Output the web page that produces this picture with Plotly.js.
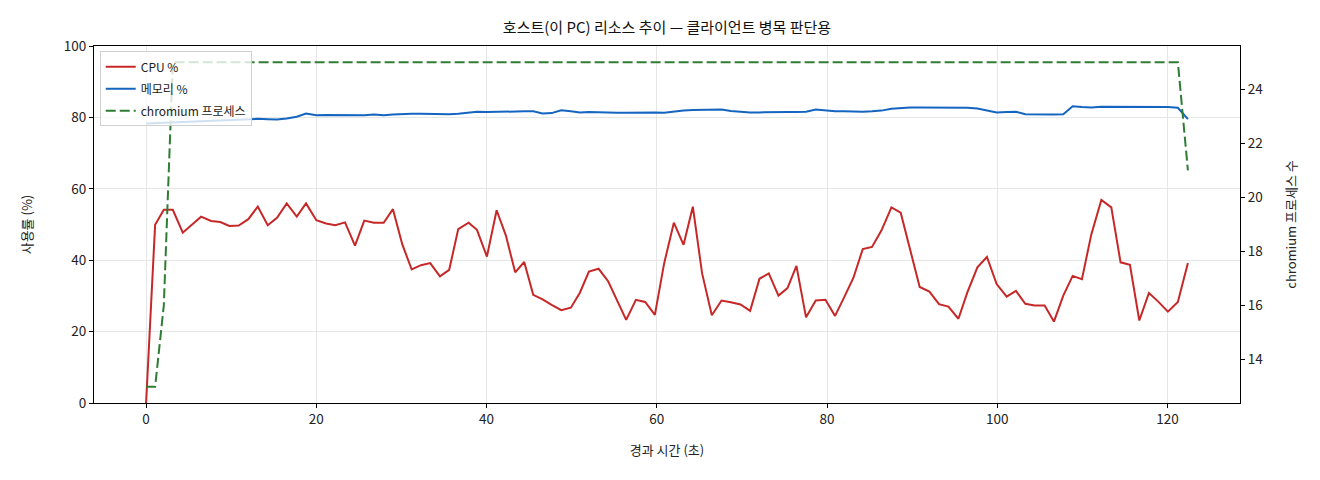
<!DOCTYPE html>
<html>
<head>
<meta charset="utf-8">
<script src="https://cdn.plot.ly/plotly-3.0.1.min.js"></script>
<style>
  body { margin: 0; background: #fff; }
  #chart { width: 1320px; height: 480px; }
</style>
</head>
<body>
<div id="chart"></div>
<script>
// 경과 시간 (초)
let elapsed = [
  0, 1.06, 2.08, 3.14, 4.31, 5.40, 6.46, 7.63, 8.72, 9.78,
  10.88, 12.01, 13.12, 14.29, 15.38, 16.52, 17.70, 18.79, 20.00, 21.14,
  22.23, 23.37, 24.54, 25.63, 26.77, 27.91, 29.00, 30.09, 31.20, 32.29,
  33.38, 34.52, 35.61, 36.67, 37.89, 38.87, 40.04, 41.18, 42.27, 43.36,
  44.42, 45.48, 46.58, 47.64, 48.77, 49.90, 50.96, 52.02, 53.16, 54.28,
  55.31, 56.40, 57.54, 58.63, 59.77, 60.86, 62.00, 63.14, 64.23, 65.32,
  66.46, 67.60, 68.69, 69.83, 70.96, 72.06, 73.15, 74.29, 75.35, 76.40,
  77.53, 78.67, 79.81, 80.94, 82.00, 83.10, 84.19, 85.28, 86.38, 87.56,
  88.65, 89.74, 90.88, 92.02, 93.15, 94.25, 95.43, 96.48, 97.66, 98.78,
  99.92, 101.10, 102.19, 103.29, 104.38, 105.56, 106.65, 107.75, 108.85, 109.94,
  111.05, 112.22, 113.39, 114.48, 115.58, 116.68, 117.81, 118.91, 120.04, 121.21,
  122.39
];

// CPU 사용률 (%)
let cpuPct = [
  0, 49.9, 54.1, 54.1, 47.7, 50.0, 52.2, 51.0, 50.7, 49.6,
  49.7, 51.5, 55.0, 49.8, 51.9, 55.9, 52.2, 55.9, 51.2, 50.3,
  49.8, 50.6, 44.1, 51.1, 50.5, 50.5, 54.3, 44.5, 37.4, 38.6,
  39.2, 35.5, 37.3, 48.7, 50.5, 48.5, 41.0, 54.0, 46.9, 36.6,
  39.5, 30.3, 29.0, 27.5, 26.0, 26.7, 30.9, 36.8, 37.6, 34.1,
  28.9, 23.3, 28.9, 28.3, 24.7, 39.1, 50.5, 44.3, 55.0, 36.3,
  24.6, 28.7, 28.2, 27.6, 25.8, 34.8, 36.3, 30.1, 32.2, 38.4,
  24.0, 28.7, 28.9, 24.4, 29.6, 35.1, 43.1, 43.7, 48.3, 54.8,
  53.3, 42.9, 32.5, 31.2, 27.7, 27.0, 23.6, 31.0, 38.0, 40.9,
  33.3, 29.8, 31.4, 27.8, 27.3, 27.3, 22.8, 30.1, 35.6, 34.7,
  47.3, 56.9, 54.8, 39.4, 38.7, 23.1, 30.8, 28.4, 25.6, 28.3,
  39.2
];

// 메모리 사용률 (%)
let memPct = [
  78.3, 78.4, 78.5, 78.6, 78.7, 78.8, 78.9, 79.0, 79.1, 79.2,
  79.3, 79.4, 79.6, 79.5, 79.4, 79.7, 80.2, 81.1, 80.6, 80.7,
  80.7, 80.5, 80.6, 80.6, 80.8, 80.6, 80.8, 81.0, 81.0, 81.0,
  80.9, 80.9, 80.9, 81.0, 81.4, 81.6, 81.5, 81.6, 81.7, 81.7,
  81.7, 81.7, 81.1, 81.2, 82.0, 81.7, 81.4, 81.5, 81.4, 81.2,
  81.3, 81.3, 81.4, 81.4, 81.4, 81.3, 81.7, 81.9, 82.1, 82.1,
  82.1, 82.2, 81.8, 81.5, 81.4, 81.4, 81.5, 81.5, 81.5, 81.5,
  81.6, 82.2, 81.9, 81.7, 81.7, 81.6, 81.6, 81.7, 81.9, 82.4,
  82.7, 82.8, 82.8, 82.8, 82.7, 82.6, 82.6, 82.7, 82.5, 81.9,
  81.4, 81.5, 81.6, 80.9, 80.8, 80.8, 80.8, 80.9, 83.1, 82.9,
  82.8, 83.0, 83.0, 83.1, 83.1, 83.1, 83.1, 82.9, 82.9, 82.7,
  79.5
];

// chromium 프로세스 수
let chromiumCount = [
  13, 13, 16, 25, 25, 25, 25, 25, 25, 25,
  25, 25, 25, 25, 25, 25, 25, 25, 25, 25,
  25, 25, 25, 25, 25, 25, 25, 25, 25, 25,
  25, 25, 25, 25, 25, 25, 25, 25, 25, 25,
  25, 25, 25, 25, 25, 25, 25, 25, 25, 25,
  25, 25, 25, 25, 25, 25, 25, 25, 25, 25,
  25, 25, 25, 25, 25, 25, 25, 25, 25, 25,
  25, 25, 25, 25, 25, 25, 25, 25, 25, 25,
  25, 25, 25, 25, 25, 25, 25, 25, 25, 25,
  25, 25, 25, 25, 25, 25, 25, 25, 25, 25,
  25, 25, 25, 25, 25, 25, 25, 25, 25, 25,
  21
];

let xTicks = [0, 20, 40, 60, 80, 100, 120];
let leftTicks = [0, 20, 40, 60, 80, 100];
let rightTicks = [14, 16, 18, 20, 22, 24];

let FONT = '"Noto Sans CJK KR", "Noto Sans", sans-serif';

// CPU 선
let cpuTrace = {
  type: 'scatter',
  mode: 'lines',
  x: elapsed,
  y: cpuPct,
  name: 'CPU %',
  legendgroup: 'cpu',
  line: { color: '#c62828', width: 2 },
  xaxis: 'x',
  yaxis: 'y',
};

// 메모리 선
let memTrace = {
  type: 'scatter',
  mode: 'lines',
  x: elapsed,
  y: memPct,
  name: '메모리 %',
  legendgroup: 'mem',
  line: { color: '#1565c0', width: 2 },
  xaxis: 'x',
  yaxis: 'y',
};

// chromium 프로세스 (오른쪽 축)
let procTrace = {
  type: 'scatter',
  mode: 'lines',
  x: elapsed,
  y: chromiumCount,
  name: 'chromium 프로세스',
  legendgroup: 'proc',
  line: { color: '#2e7d32', width: 2, dash: '10px,4px' },
  xaxis: 'x',
  yaxis: 'y2',
};

let layout = {
  width: 1320,
  height: 480,
  margin: { l: 94, r: 80, t: 46, b: 77 },
  paper_bgcolor: '#ffffff',
  plot_bgcolor: '#ffffff',
  font: { family: FONT, size: 13, color: '#222' },
  showlegend: true,
  title: {
    text: '호스트(이 PC) 리소스 추이 — 클라이언트 병목 판단용',
    font: { family: FONT, size: 15, color: '#111' },
    x: 0.5,
    xanchor: 'center',
    xref: 'paper',
    y: 1 - 28 / 480,
    yref: 'container',
    yanchor: 'middle',
  },
  xaxis: {
    range: [-6.12, 128.51],
    tickvals: xTicks,
    ticktext: xTicks.map(String),
    ticks: 'outside',
    ticklen: 4,
    tickcolor: '#000',
    showline: true,
    linecolor: '#000',
    linewidth: 1,
    mirror: true,
    showgrid: true,
    gridcolor: '#e6e6e6',
    gridwidth: 1,
    zeroline: false,
    tickfont: { family: FONT, size: 13.5, color: '#222' },
    title: { text: '경과 시간 (초)', font: { family: FONT, size: 13, color: '#222' }, standoff: 18 },
  },
  yaxis: {
    range: [0, 100],
    tickvals: leftTicks,
    ticktext: leftTicks.map(String),
    ticks: 'outside',
    ticklen: 4,
    tickcolor: '#000',
    showline: true,
    linecolor: '#000',
    linewidth: 1,
    mirror: true,
    showgrid: true,
    gridcolor: '#e6e6e6',
    gridwidth: 1,
    zeroline: false,
    tickfont: { family: FONT, size: 13.5, color: '#222' },
    title: { text: '사용률 (%)', font: { family: FONT, size: 13, color: '#222' }, standoff: 28 },
  },
  yaxis2: {
    overlaying: 'y',
    side: 'right',
    range: [12.4, 25.6],
    tickvals: rightTicks,
    ticktext: rightTicks.map(String),
    ticks: 'outside',
    ticklen: 4,
    tickcolor: '#000',
    showline: true,
    linecolor: '#000',
    linewidth: 1,
    showgrid: false,
    zeroline: false,
    tickfont: { family: FONT, size: 13.5, color: '#222' },
    title: { text: 'chromium 프로세스 수', font: { family: FONT, size: 13, color: '#222' }, standoff: 24 },
  },
  legend: {
    x: 0.005,
    y: 0.985,
    xanchor: 'left',
    yanchor: 'top',
    bgcolor: 'rgba(255,255,255,0.8)',
    bordercolor: '#d0d0d0',
    borderwidth: 1,
    font: { family: FONT, size: 12, color: '#222' },
    itemwidth: 30,
    tracegroupgap: 3,
  },
};

Plotly.newPlot('chart', [cpuTrace, memTrace, procTrace], layout, { displayModeBar: false, staticPlot: true });
</script>
</body>
</html>
